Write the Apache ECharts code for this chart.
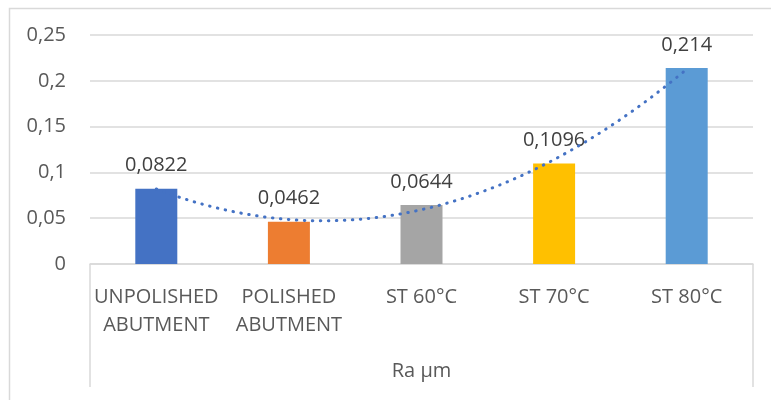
<!DOCTYPE html>
<html>
<head>
<meta charset="utf-8">
<script src="https://cdn.jsdelivr.net/npm/echarts@6/dist/echarts.min.js"></script>
<style>
  html, body { margin: 0; padding: 0; background: #fff; }
  #main { width: 771px; height: 400px; }
</style>
</head>
<body>
<div id="main"></div>
<script>
// data
var categories = ['UNPOLISHED\nABUTMENT', 'POLISHED\nABUTMENT', 'ST 60°C', 'ST 70°C', 'ST 80°C'];
var values = [0.0822, 0.0462, 0.0644, 0.1096, 0.214];
var barColors = ['#4472C4', '#ED7D31', '#A5A5A5', '#FFC000', '#5B9BD5'];
var groupLabel = ['Ra µm'];

var font = '"Open Sans", sans-serif';

// polynomial (order 2) trendline, least squares over x = 1..n like Excel
function polyFit2(ys) {
  var n = ys.length, s = [0, 0, 0, 0, 0], t = [0, 0, 0];
  for (var i = 0; i < n; i++) {
    var x = i + 1;
    for (var k = 0; k < 5; k++) s[k] += Math.pow(x, k);
    for (var k = 0; k < 3; k++) t[k] += ys[i] * Math.pow(x, k);
  }
  // solve 3x3 normal equations
  var m = [[s[0], s[1], s[2], t[0]], [s[1], s[2], s[3], t[1]], [s[2], s[3], s[4], t[2]]];
  for (var c = 0; c < 3; c++) {
    for (var r = c + 1; r < 3; r++) {
      var f = m[r][c] / m[c][c];
      for (var j = c; j < 4; j++) m[r][j] -= f * m[c][j];
    }
  }
  var res = [0, 0, 0];
  for (var r = 2; r >= 0; r--) {
    var v = m[r][3];
    for (var j = r + 1; j < 3; j++) v -= m[r][j] * res[j];
    res[r] = v / m[r][r];
  }
  return res;
}
var coef = polyFit2(values);
var trend = [];
for (var x = 1; x <= values.length + 1e-9; x += 0.05) {
  trend.push([x, coef[0] + coef[1] * x + coef[2] * x * x]);
}

var chart = echarts.init(document.getElementById('main'));

var option = {
  animation: false,
  graphic: [{
    type: 'rect',
    left: 7, top: 6,
    shape: { width: 900, height: 500 },
    style: { fill: 'none', stroke: '#d9d9d9', lineWidth: 1.5 },
    z: -10
  }],
  grid: [
    { left: 90, right: 18, top: 35, bottom: 136 },
    { left: 90, right: 18, top: 264, bottom: 13 }
  ],
  xAxis: [{
    type: 'category',
    gridIndex: 0,
    data: categories,
    axisLine: { lineStyle: { color: '#d9d9d9', width: 1.5 } },
    axisTick: { show: false },
    axisLabel: {
      interval: 0,
      margin: 19,
      fontFamily: font,
      fontSize: 20,
      lineHeight: 28,
      color: '#595959'
    }
  }, {
    type: 'value',
    gridIndex: 0,
    min: 0.5,
    max: values.length + 0.5,
    show: false
  }, {
    type: 'category',
    gridIndex: 1,
    data: groupLabel,
    position: 'bottom',
    axisLine: { show: false },
    axisTick: { show: true, inside: true, length: 123, lineStyle: { color: '#d9d9d9', width: 1.5 } },
    axisLabel: {
      inside: true,
      margin: 6,
      fontFamily: font,
      fontSize: 20,
      color: '#595959'
    }
  }],
  yAxis: [{
    type: 'value',
    gridIndex: 0,
    min: 0,
    max: 0.25,
    interval: 0.05,
    axisLine: { show: false },
    axisTick: { show: false },
    splitLine: { lineStyle: { color: '#d9d9d9', width: 1.5 } },
    axisLabel: {
      margin: 24,
      fontFamily: font,
      fontSize: 20,
      color: '#595959',
      formatter: function (v) { return String(+v.toFixed(4)).replace('.', ','); }
    }
  }, {
    type: 'value',
    gridIndex: 1,
    show: false
  }],
  series: [{
    type: 'bar',
    xAxisIndex: 0,
    yAxisIndex: 0,
    barWidth: 42,
    data: values.map(function (v, i) {
      return { value: v, itemStyle: { color: barColors[i] } };
    }),
    label: {
      show: true,
      position: 'top',
      distance: 13,
      fontFamily: font,
      fontSize: 20,
      color: '#404040',
      formatter: function (p) { return String(p.value).replace('.', ','); }
    }
  }, {
    type: 'line',
    xAxisIndex: 1,
    yAxisIndex: 0,
    data: trend,
    showSymbol: false,
    silent: true,
    z: 5,
    lineStyle: { color: '#4472C4', width: 3, type: [0.5, 7.5], cap: 'round' }
  }]
};

chart.setOption(option);
</script>
</body>
</html>
